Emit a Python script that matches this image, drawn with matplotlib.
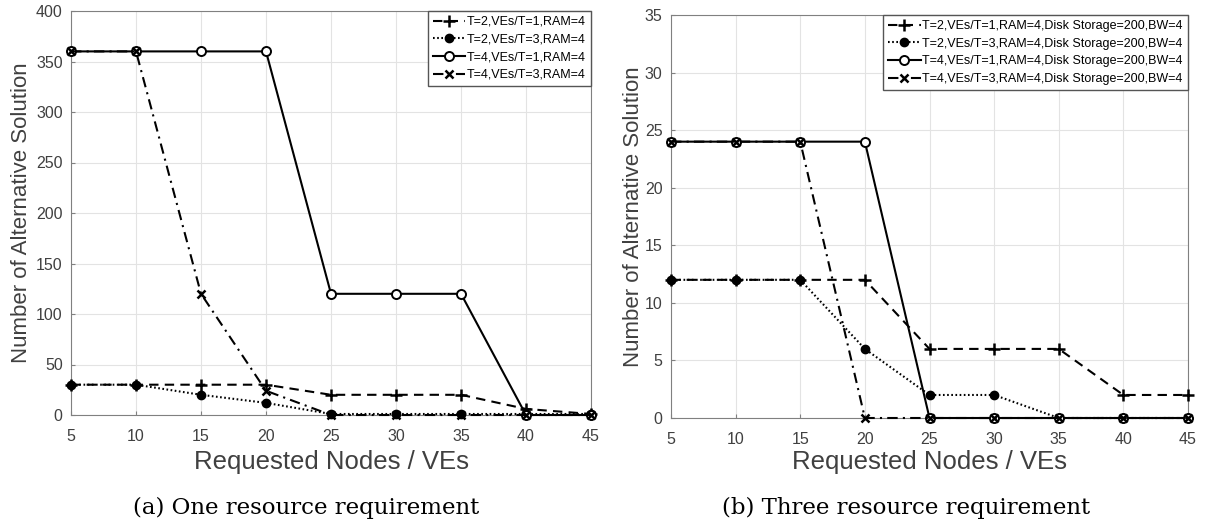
import matplotlib.pyplot as plt

# requested nodes / VEs
nodes = [5, 10, 15, 20, 25, 30, 35, 40, 45]

# (a) one resource requirement
a_t2_v1 = [30, 30, 30, 30, 20, 20, 20, 6, 1]
a_t2_v3 = [30, 30, 20, 12, 1, 1, 1, 1, 1]
a_t4_v1 = [360, 360, 360, 360, 120, 120, 120, 0, 0]
a_t4_v3 = [360, 360, 120, 24, 0, 0, 0, 0, 0]
a_labels = ['T=2,VEs/T=1,RAM=4', 'T=2,VEs/T=3,RAM=4',
            'T=4,VEs/T=1,RAM=4', 'T=4,VEs/T=3,RAM=4']

# (b) three resource requirement
b_t2_v1 = [12, 12, 12, 12, 6, 6, 6, 2, 2]
b_t2_v3 = [12, 12, 12, 6, 2, 2, 0, 0, 0]
b_t4_v1 = [24, 24, 24, 24, 0, 0, 0, 0, 0]
b_t4_v3 = [24, 24, 24, 0, 0, 0, 0, 0, 0]
b_labels = [s + ',Disk Storage=200,BW=4' for s in a_labels]

plt.rcParams['font.family'] = ['Liberation Sans', 'DejaVu Sans']

styles = [dict(dashes=(4.5, 3), marker='+', ms=8, mew=1.8),
          dict(dashes=(0.8, 1.2), marker='o', ms=6),
          dict(ls='-', marker='o', ms=6.5, mfc='white', mew=1.4),
          dict(dashes=(5, 2.5, 1, 2.5), marker='x', ms=5.5, mew=1.8)]


def draw(ax, series, labels, ymax, ystep):
    for ys, lab, st in zip(series, labels, styles):
        ax.plot(nodes, ys, color='black', lw=1.5, label=lab, clip_on=False,
                zorder=3, **st)
    ax.set_xlim(5, 45)
    ax.set_ylim(0, ymax)
    ax.set_xticks(nodes)
    ax.set_yticks(range(0, ymax + 1, ystep))
    ax.grid(True, color='#e3e3e3', lw=0.8)
    for sp in ax.spines.values():
        sp.set_color('#808080')
    ax.tick_params(labelsize=11.5, labelcolor='#404040', direction='in',
                   length=3, color='#808080')
    ax.tick_params(axis='x', pad=10)
    ax.tick_params(axis='y', pad=6)
    ax.set_xlabel('Requested Nodes / VEs', fontsize=18.5, color='#404040')
    ax.set_ylabel('Number of Alternative Solution', fontsize=16,
                  color='#404040')
    leg = ax.legend(loc='upper right', fontsize=9, handlelength=2.6,
                    handletextpad=0.15, borderaxespad=0.0, fancybox=False,
                    edgecolor='#555555', labelspacing=0.45, borderpad=0.4,
                    framealpha=1)
    leg.get_frame().set_linewidth(1.0)


fig = plt.figure(figsize=(12.08, 5.27), dpi=100)
ax1 = fig.add_axes([71 / 1208, 112 / 527, 520 / 1208, 404 / 527])
ax2 = fig.add_axes([671 / 1208, 109 / 527, 517 / 1208, 403 / 527])

draw(ax1, [a_t2_v1, a_t2_v3, a_t4_v1, a_t4_v3], a_labels, 400, 50)
draw(ax2, [b_t2_v1, b_t2_v3, b_t4_v1, b_t4_v3], b_labels, 35, 5)

ax1.xaxis.set_label_coords(0.5, -35 / 404)
ax2.xaxis.set_label_coords(0.5, -32 / 403)
ax1.yaxis.set_label_coords(-39 / 520, 0.5)
ax2.yaxis.set_label_coords(-27 / 517, 0.5)

fig.text(306 / 1208, 1 - 508 / 527, '(a) One resource requirement',
         ha='center', va='center', fontsize=16.5, family='DejaVu Serif')
fig.text(906 / 1208, 1 - 508 / 527, '(b) Three resource requirement',
         ha='center', va='center', fontsize=16.5, family='DejaVu Serif')

fig.savefig('out.png', dpi=100)
